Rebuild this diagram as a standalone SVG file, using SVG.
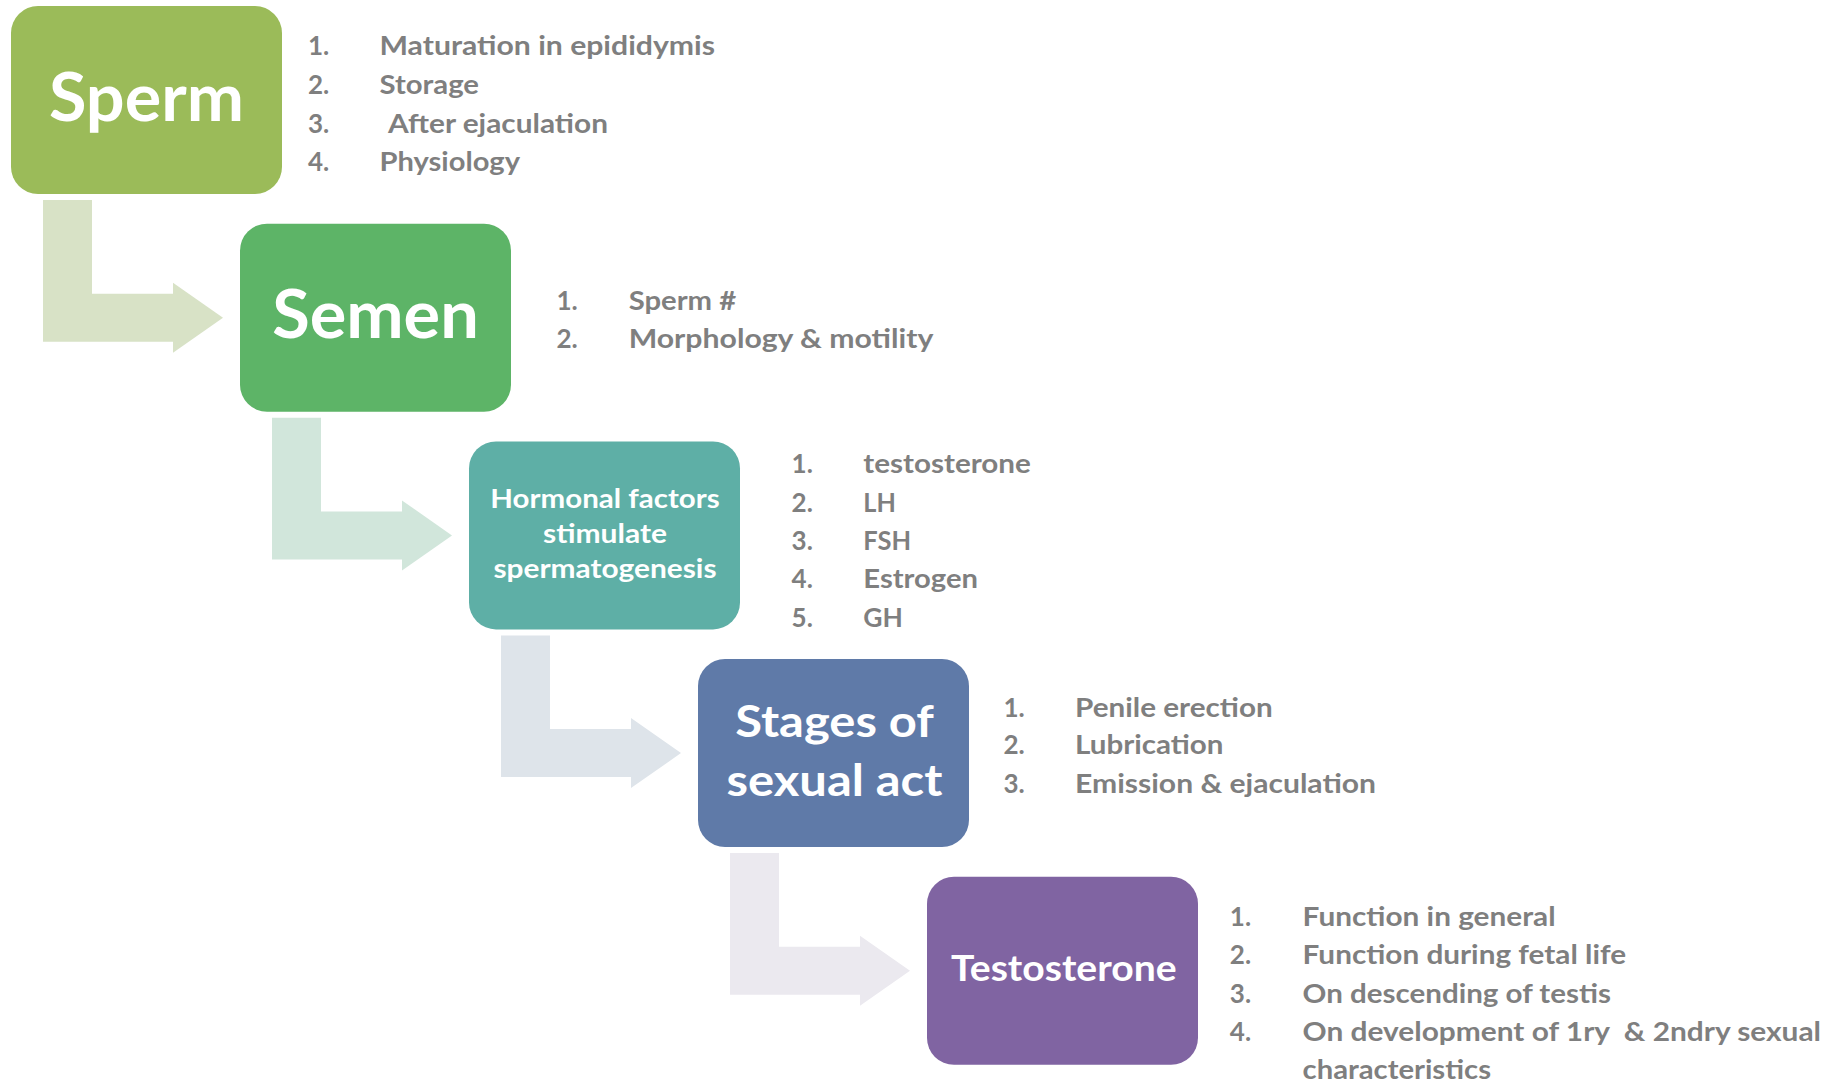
<svg xmlns="http://www.w3.org/2000/svg" width="1841" height="1088" viewBox="0 0 1841 1088">
<style>
.title{font-family:Lato,"Liberation Sans",sans-serif;font-weight:bold;fill:#ffffff;text-anchor:middle}
.li{font-family:Lato,"Liberation Sans",sans-serif;font-weight:bold;font-size:26px;fill:#7f7f7f}
</style>
<rect width="1841" height="1088" fill="#ffffff"/>
<g id="connectors">
<path d="M43,200 H92 V293.7 H173 V282.7 L223,317.7 L173,352.7 V341.7 H43 Z" fill="#d8e2c6"/>
<path d="M272,417.7 H321 V511.4 H402 V500.4 L452,535.4 L402,570.4 V559.4 H272 Z" fill="#d1e6db"/>
<path d="M501,635.4 H550 V729.1 H631 V718.1 L681,753.1 L631,788.1 V777.1 H501 Z" fill="#dee4ea"/>
<path d="M730,853 H779 V946.7 H860 V935.7 L910,970.7 L860,1005.7 V994.7 H730 Z" fill="#ebe9ef"/>
</g>
<g id="sperm">
<rect x="11" y="6" width="271" height="188" rx="27" fill="#9bbb59"/>
<text class="title" x="146.5" y="120.7" font-size="67" textLength="195" lengthAdjust="spacingAndGlyphs">Sperm</text>
<text class="li" x="308" y="55">1.</text><text class="li" x="379.5" y="55" textLength="335.5" lengthAdjust="spacingAndGlyphs">Maturation in epididymis</text>
<text class="li" x="308" y="94">2.</text><text class="li" x="379.5" y="94" textLength="99.5" lengthAdjust="spacingAndGlyphs">Storage</text>
<text class="li" x="308" y="132.7">3.</text><text class="li" x="388" y="132.7" textLength="220" lengthAdjust="spacingAndGlyphs">After ejaculation</text>
<text class="li" x="308" y="170.7">4.</text><text class="li" x="379.5" y="170.7" textLength="140.5" lengthAdjust="spacingAndGlyphs">Physiology</text>
</g>
<g id="semen">
<rect x="240" y="223.7" width="271" height="188" rx="27" fill="#5db467"/>
<text class="title" x="375.5" y="338" font-size="66" textLength="206.6" lengthAdjust="spacingAndGlyphs">Semen</text>
<text class="li" x="556.5" y="310">1.</text><text class="li" x="628.7" y="310" textLength="107.5" lengthAdjust="spacingAndGlyphs">Sperm #</text>
<text class="li" x="556.5" y="348.3">2.</text><text class="li" x="628.7" y="348.3" textLength="304.7" lengthAdjust="spacingAndGlyphs">Morphology &amp; motility</text>
</g>
<g id="hormonal">
<rect x="469" y="441.4" width="271" height="188" rx="27" fill="#5eafa6"/>
<text class="title" x="605" y="508.3" font-size="26" textLength="229.3" lengthAdjust="spacingAndGlyphs">Hormonal factors</text>
<text class="title" x="605" y="542.7" font-size="26" textLength="124" lengthAdjust="spacingAndGlyphs">stimulate</text>
<text class="title" x="605" y="578.3" font-size="26" textLength="223" lengthAdjust="spacingAndGlyphs">spermatogenesis</text>
<text class="li" x="791.6" y="473.3">1.</text><text class="li" x="863.3" y="473.3" textLength="167.6" lengthAdjust="spacingAndGlyphs">testosterone</text>
<text class="li" x="791.6" y="511.7">2.</text><text class="li" x="863.3" y="511.7" textLength="32.5" lengthAdjust="spacingAndGlyphs">LH</text>
<text class="li" x="791.6" y="550">3.</text><text class="li" x="863.3" y="550" textLength="47.8" lengthAdjust="spacingAndGlyphs">FSH</text>
<text class="li" x="791.6" y="588.3">4.</text><text class="li" x="863.3" y="588.3" textLength="114.7" lengthAdjust="spacingAndGlyphs">Estrogen</text>
<text class="li" x="791.6" y="627.3">5.</text><text class="li" x="863.3" y="627.3" textLength="39.6" lengthAdjust="spacingAndGlyphs">GH</text>
</g>
<g id="stages">
<rect x="698" y="659" width="271" height="188" rx="27" fill="#5f7aa8"/>
<text class="title" x="834.5" y="736.7" font-size="44" textLength="198.7" lengthAdjust="spacingAndGlyphs">Stages of</text>
<text class="title" x="834.5" y="796" font-size="44" textLength="215.8" lengthAdjust="spacingAndGlyphs">sexual act</text>
<text class="li" x="1003.5" y="716.7">1.</text><text class="li" x="1075" y="716.7" textLength="197.7" lengthAdjust="spacingAndGlyphs">Penile erection</text>
<text class="li" x="1003.5" y="754.3">2.</text><text class="li" x="1075" y="754.3" textLength="148.4" lengthAdjust="spacingAndGlyphs">Lubrication</text>
<text class="li" x="1003.5" y="792.7">3.</text><text class="li" x="1075" y="792.7" textLength="301" lengthAdjust="spacingAndGlyphs">Emission &amp; ejaculation</text>
</g>
<g id="testosterone">
<rect x="927" y="876.8" width="271" height="188" rx="27" fill="#8064a2"/>
<text class="title" x="1063.8" y="980.7" font-size="36" textLength="225.6" lengthAdjust="spacingAndGlyphs">Testosterone</text>
<text class="li" x="1229.8" y="926">1.</text><text class="li" x="1302.6" y="926" textLength="253" lengthAdjust="spacingAndGlyphs">Function in general</text>
<text class="li" x="1229.8" y="964">2.</text><text class="li" x="1302.6" y="964" textLength="323.5" lengthAdjust="spacingAndGlyphs">Function during fetal life</text>
<text class="li" x="1229.8" y="1002.7">3.</text><text class="li" x="1302.6" y="1002.7" textLength="308.3" lengthAdjust="spacingAndGlyphs">On descending of testis</text>
<text class="li" x="1229.8" y="1041">4.</text><text class="li" x="1302.6" y="1041" xml:space="preserve" textLength="518.4" lengthAdjust="spacingAndGlyphs">On development of 1ry  &amp; 2ndry sexual</text>
<text class="li" x="1302.6" y="1079.3" textLength="188.4" lengthAdjust="spacingAndGlyphs">characteristics</text>
</g>
</svg>
